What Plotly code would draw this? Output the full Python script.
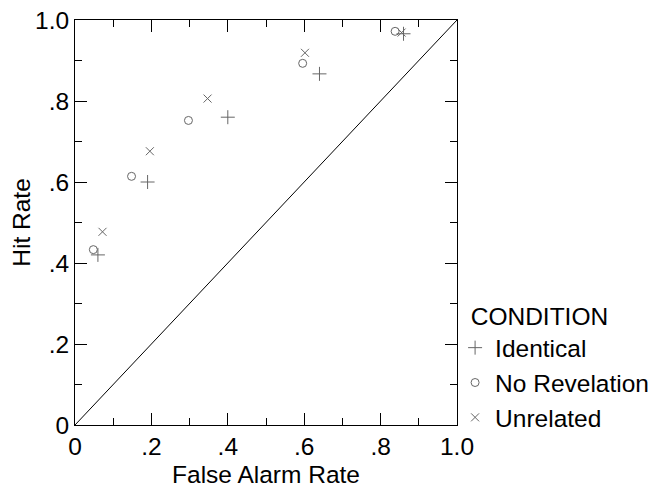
import plotly.graph_objects as go

conditions = ["Identical", "No Revelation", "Unrelated"]
far_identical = [0.06, 0.19, 0.40, 0.64, 0.86]
hit_identical = [0.42, 0.60, 0.76, 0.867, 0.966]
far_norev = [0.048, 0.148, 0.297, 0.596, 0.838]
hit_norev = [0.433, 0.614, 0.752, 0.893, 0.972]
far_unrel = [0.072, 0.196, 0.347, 0.602, 0.855]
hit_unrel = [0.477, 0.676, 0.806, 0.919, 0.969]
tick_vals = [0, 0.2, 0.4, 0.6, 0.8, 1.0]
tick_text = ["0", ".2", ".4", ".6", ".8", "1.0"]
diag = [0, 1]

FONT = "Liberation Sans, Arial, sans-serif"
FS = 24.5
fig = go.Figure()
fig.add_trace(go.Scatter(x=diag, y=diag, mode="lines", line=dict(color="black", width=1),
                         showlegend=False, hoverinfo="skip"))
series = [(far_identical, hit_identical, "cross-thin-open", 10),
          (far_norev, hit_norev, "circle-open", 8),
          (far_unrel, hit_unrel, "x-thin-open", 8)]
for name, (xs, ys, sym, sz) in zip(conditions, series):
    fig.add_trace(go.Scatter(x=xs, y=ys, mode="markers", name=name,
                             marker=dict(symbol=sym, size=sz, color="#666666",
                                         line=dict(color="#666666", width=1))))

axis_common = dict(range=[0, 1], tickvals=tick_vals, ticktext=tick_text,
                   ticks="inside", ticklen=12, tickwidth=1, tickcolor="black",
                   showline=True, linecolor="black", linewidth=1, mirror="ticks",
                   showgrid=False, zeroline=False, automargin=False,
                   ticklabeloverflow="allow",
                   tickfont=dict(family=FONT, size=FS, color="black"),
                   minor=dict(ticks="inside", ticklen=7, tickwidth=1, tickcolor="black", dtick=0.1, tick0=0))
fig.update_xaxes(**axis_common, title=dict(text="False Alarm Rate", font=dict(family=FONT, size=FS, color="black"), standoff=6))
fig.update_yaxes(**axis_common, title=dict(text="Hit Rate", font=dict(family=FONT, size=FS, color="black"), standoff=10))

fig.update_layout(
    width=660, height=491,
    margin=dict(l=67, r=211, t=12, b=74, autoexpand=False),
    plot_bgcolor="white", paper_bgcolor="white",
    font=dict(family=FONT, size=FS, color="black"),
    legend=dict(title=dict(text="\u00a0\u00a0CONDITION", font=dict(family=FONT, size=FS)),
                x=0.995, xanchor="left", y=0.325, yanchor="top",
                font=dict(family=FONT, size=FS), itemsizing="trace", itemwidth=30,
                tracegroupgap=0, bgcolor="rgba(0,0,0,0)"),
)
fig.write_html("out.html")
